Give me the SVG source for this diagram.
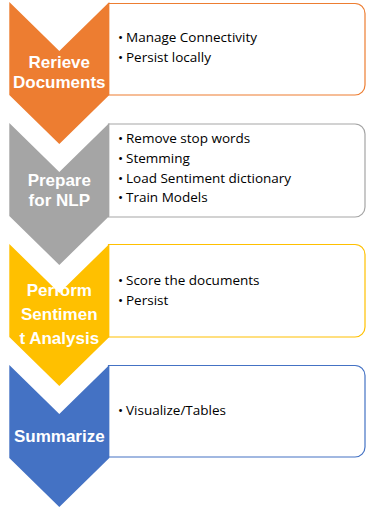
<svg xmlns="http://www.w3.org/2000/svg" width="366" height="508" viewBox="0 0 366 508">
  <style>
    .title { font-family: "Liberation Sans", Arial, sans-serif; font-weight: bold; font-size: 17px; fill: #ffffff; text-anchor: middle; }
    .body { font-family: "Open Sans", "Liberation Sans", sans-serif; font-size: 13.5px; fill: #000000; }
    .box { fill: #ffffff; stroke-width: 1.2; }
  </style>
  <rect width="366" height="508" fill="#ffffff"/>
  <g id="connectors"></g>

  <g id="step1">
    <path class="box" stroke="#ED7D31" d="M108.5,3.5 H355 A10,10 0 0 1 365,13.5 V85 A10,10 0 0 1 355,95 H108.5 Z"/>
    <polygon fill="#ED7D31" points="9.3,2 59.3,51 109.3,2 109.3,95 59.3,144 9.3,95"/>
    <text class="title" x="59.3" y="68">Rerieve</text>
    <text class="title" x="59.3" y="88">Documents</text>
    <text class="body" x="118" y="42">•</text><text class="body" x="126" y="42">Manage Connectivity</text>
    <text class="body" x="118" y="62">•</text><text class="body" x="126" y="62">Persist locally</text>
  </g>

  <g id="step2">
    <path class="box" stroke="#A5A5A5" d="M108.5,124 H355 A10,10 0 0 1 365,134 V207 A10,10 0 0 1 355,217 H108.5 Z"/>
    <polygon fill="#A5A5A5" points="9.3,123 59.3,172 109.3,123 109.3,216 59.3,265 9.3,216"/>
    <text class="title" x="59.3" y="186">Prepare</text>
    <text class="title" x="59.3" y="206">for NLP</text>
    <text class="body" x="118" y="143">•</text><text class="body" x="126" y="143">Remove stop words</text>
    <text class="body" x="118" y="163">•</text><text class="body" x="126" y="163">Stemming</text>
    <text class="body" x="118" y="183">•</text><text class="body" x="126" y="183">Load Sentiment dictionary</text>
    <text class="body" x="118" y="202">•</text><text class="body" x="126" y="202">Train Models</text>
  </g>

  <g id="step3">
    <path class="box" stroke="#FFC000" d="M108.5,244.5 H355 A10,10 0 0 1 365,254.5 V327 A10,10 0 0 1 355,337 H108.5 Z"/>
    <polygon fill="#FFC000" points="9.3,244 59.3,293 109.3,244 109.3,337 59.3,386 9.3,337"/>
    <text class="title" x="59.3" y="296">Perform</text>
    <text class="title" x="59.3" y="320">Sentimen</text>
    <text class="title" x="59.3" y="344">t Analysis</text>
    <text class="body" x="118" y="285">•</text><text class="body" x="126" y="285">Score the documents</text>
    <text class="body" x="118" y="305">•</text><text class="body" x="126" y="305">Persist</text>
  </g>

  <g id="step4">
    <path class="box" stroke="#4472C4" d="M108.5,365.5 H355 A10,10 0 0 1 365,375.5 V447 A10,10 0 0 1 355,457 H108.5 Z"/>
    <polygon fill="#4472C4" points="9.3,365 59.3,414 109.3,365 109.3,458 59.3,507 9.3,458"/>
    <text class="title" x="59.3" y="442">Summarize</text>
    <text class="body" x="118" y="415">•</text><text class="body" x="126" y="415">Visualize/Tables</text>
  </g>
</svg>
